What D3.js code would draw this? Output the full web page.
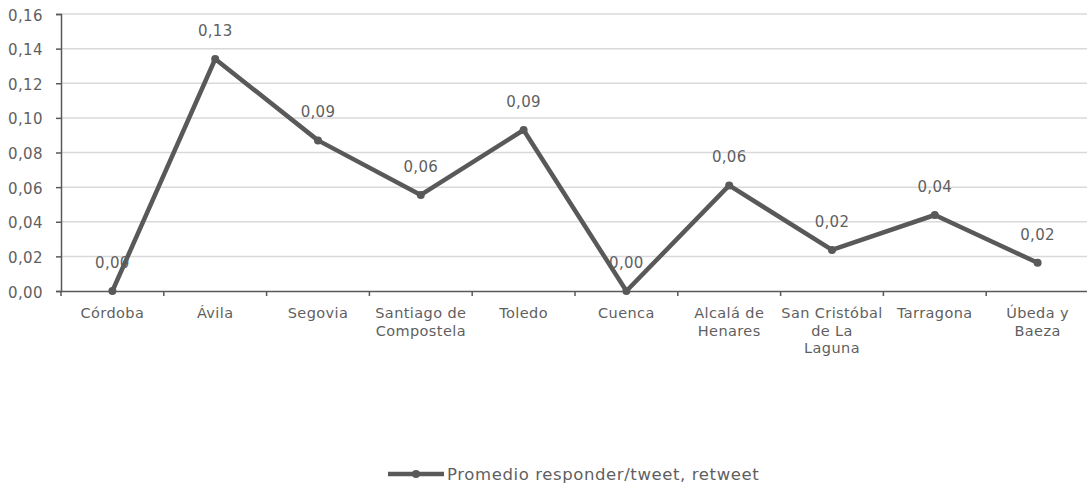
<!DOCTYPE html>
<html>
<head>
<meta charset="utf-8">
<script src="https://cdn.jsdelivr.net/npm/d3@7"></script>
<style>
  html, body { margin: 0; padding: 0; background: #fff; }
  svg { display: block; }
  text { font-family: "DejaVu Sans", sans-serif; fill: #5f5f5f; }
</style>
</head>
<body>
<svg id="chart" width="1087" height="483"></svg>
<script>
const categories = ["Córdoba", "Ávila", "Segovia", "Santiago de Compostela", "Toledo", "Cuenca", "Alcalá de Henares", "San Cristóbal de La Laguna", "Tarragona", "Úbeda y Baeza"];
const categoryLines = [["Córdoba"], ["Ávila"], ["Segovia"], ["Santiago de", "Compostela"], ["Toledo"], ["Cuenca"], ["Alcalá de", "Henares"], ["San Cristóbal", "de La", "Laguna"], ["Tarragona"], ["Úbeda y", "Baeza"]];
const values = [0.000, 0.134, 0.087, 0.0555, 0.093, 0.000, 0.061, 0.0237, 0.0439, 0.0163];
const yTicks = [0, 0.02, 0.04, 0.06, 0.08, 0.10, 0.12, 0.14, 0.16];
const seriesName = "Promedio responder/tweet, retweet";

(function () {
const svg = d3.select("#chart");
const mLeft = 61, mTop = 14, mBottom = 291, mRight = 1089;
const fmt = v => d3.format(".2f")(v).replace(".", ",");

const x = d3.scaleBand().domain(categories).range([mLeft, mRight]).padding(0);
const y = d3.scaleLinear().domain([0, 0.16]).range([mBottom, mTop]);

// gridlines
svg.append("g").selectAll("line").data(yTicks.filter(d => d > 0)).join("line")
  .attr("x1", mLeft).attr("x2", mRight)
  .attr("y1", d => y(d)).attr("y2", d => y(d))
  .attr("stroke", "#d9d9d9").attr("stroke-width", 1.5);

// y axis
const yAxis = svg.append("g").attr("transform", `translate(${mLeft},0)`)
  .call(d3.axisLeft(y).tickValues(yTicks).tickFormat(fmt).tickSize(5).tickPadding(13));
yAxis.select(".domain").attr("stroke", "#595959").attr("stroke-width", 1.5);
yAxis.selectAll(".tick line").attr("stroke", "#595959").attr("stroke-width", 1.5);
yAxis.selectAll("text").attr("font-size", 15).attr("fill", "#5f5f5f")
  .attr("font-family", "DejaVu Sans").attr("letter-spacing", 0.4).attr("dy", "0.4em");

// x axis
const xAxis = svg.append("g").attr("transform", `translate(0,${mBottom})`)
  .call(d3.axisBottom(x).tickSize(0).tickFormat(""));
xAxis.select(".domain").attr("stroke", "#595959").attr("stroke-width", 1.5);
const bounds = categories.map(c => x(c));
svg.append("g").selectAll("line").data(bounds).join("line")
  .attr("x1", d => d).attr("x2", d => d)
  .attr("y1", mBottom).attr("y2", mBottom + 5)
  .attr("stroke", "#595959").attr("stroke-width", 1.5);

// category labels
const catG = svg.append("g");
categories.forEach((c, i) => {
  const t = catG.append("text")
    .attr("x", x(c) + x.bandwidth() / 2)
    .attr("y", 318)
    .attr("text-anchor", "middle")
    .attr("font-size", 14.5)
    .attr("letter-spacing", 0.4);
  categoryLines[i].forEach((ln, j) => {
    t.append("tspan").attr("x", x(c) + x.bandwidth() / 2).attr("dy", j === 0 ? 0 : 17.5).text(ln);
  });
});

// line
const cx = (d, i) => x(categories[i]) + x.bandwidth() / 2;
const line = d3.line().x(cx).y(d => y(d));
svg.append("path").datum(values)
  .attr("d", line).attr("fill", "none")
  .attr("stroke", "#595959").attr("stroke-width", 4.5).attr("stroke-linejoin", "round");

svg.append("g").selectAll("circle").data(values).join("circle")
  .attr("cx", cx).attr("cy", d => y(d)).attr("r", 4)
  .attr("fill", "#595959");

// data labels
svg.append("g").selectAll("text").data(values).join("text")
  .attr("x", cx).attr("y", d => y(d) - 23)
  .attr("text-anchor", "middle").attr("font-size", 15).attr("letter-spacing", 0.3)
  .text(d => fmt(d));

// legend
const lg = svg.append("g");
lg.append("line").attr("x1", 388).attr("x2", 444).attr("y1", 474).attr("y2", 474)
  .attr("stroke", "#595959").attr("stroke-width", 4.5);
lg.append("circle").attr("cx", 416).attr("cy", 474).attr("r", 4).attr("fill", "#595959");
lg.append("text").attr("x", 447).attr("y", 480).attr("font-size", 16.5)
  .attr("letter-spacing", 0.6).text(seriesName);
})();
</script>
</body>
</html>
